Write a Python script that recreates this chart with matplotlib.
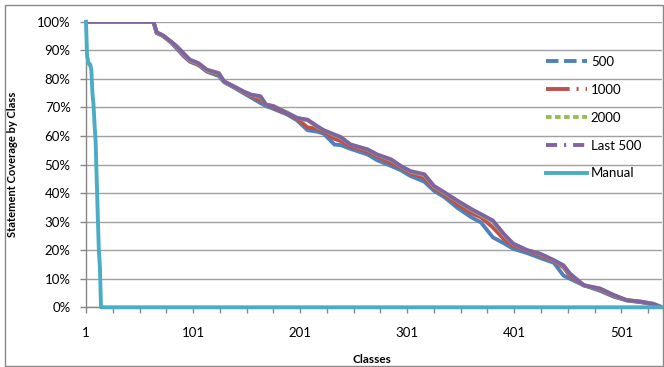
import matplotlib
matplotlib.use("Agg")
import matplotlib.pyplot as plt
from matplotlib.lines import Line2D
from matplotlib.patches import Rectangle

plt.rcParams['font.family'] = ['Lato', 'DejaVu Sans']
plt.rcParams['lines.scale_dashes'] = False

classes = [1, 64, 67, 73, 81, 86, 92, 98, 106, 114, 125, 130, 139, 148, 155,
           164, 169, 176, 189, 198, 208, 217, 223, 233, 239, 248, 264, 273,
           286, 295, 304, 317, 326, 336, 348, 361, 370, 381, 391, 400, 413,
           425, 438, 447, 453, 466, 481, 494, 506, 519, 531, 539]

cov_500 = [100, 100, 96, 95, 92.5, 90.5, 88, 86, 84.8, 82.5, 81, 78.8, 77, 75,
           73.5, 71.5, 70.5, 69.5, 67.5, 65.5, 62, 61.5, 60.8, 57, 56.8, 55.5,
           53.5, 51.5, 49.5, 48, 46, 44, 40.8, 38.5, 34.8, 31.5, 29.7, 24.5,
           22.5, 20.5, 19, 17.3, 15.6, 11.1, 10, 7.7, 5.8, 3.7, 2.4, 1.8, 1.0, 0]

cov_1000 = [100, 100, 96.2, 95, 92.7, 90.8, 88.4, 86.3, 85, 82.8, 81.5, 79,
            77.2, 75.3, 74, 72.5, 71, 70, 67.8, 66, 63, 62.5, 61.5, 59, 58.2,
            56.3, 54.5, 52.8, 50.5, 49, 47, 45.3, 41.7, 39.3, 36, 33, 31.5, 28,
            24, 21.5, 19.8, 18.2, 16.2, 14, 11, 7.7, 6.3, 4, 2.5, 1.9, 1.1, 0]

cov_2000 = [100, 100, 96.2, 95.1, 92.8, 91.1, 88.8, 86.5, 85.3, 83, 81.8, 79,
            77.3, 75.5, 74.4, 73.6, 71, 70.5, 68.2, 66.4, 65.4, 63.2, 62, 60.3,
            59.4, 57, 55.2, 53.4, 51.6, 49.4, 47.5, 46.3, 42.3, 40, 37.1, 34.1,
            32.3, 30, 25.5, 22.2, 20, 18.7, 16.4, 14.5, 11.7, 7.7, 6.5, 4.2,
            2.5, 2.0, 1.2, 0]

cov_last500 = [100, 100, 96.3, 95.2, 92.9, 91.3, 89, 86.7, 85.5, 83.2, 82,
               79.1, 77.4, 75.6, 74.5, 73.9, 71, 70.4, 68, 66.3, 65.7, 63.4, 62,
               60.5, 59.6, 57, 55.3, 53.5, 51.8, 49.5, 47.7, 46.6, 42.5, 40.2,
               37.3, 34.4, 32.6, 30.4, 25.8, 22.3, 20, 18.8, 16.5, 14.7, 11.8,
               7.7, 6.6, 4.3, 2.5, 2.0, 1.2, 0]

manual_classes = [1, 2, 3, 4, 5, 6, 7, 8, 9, 10, 11, 12, 13, 14, 15, 539]
cov_manual = [100, 88, 86, 85, 85, 83, 75, 71, 64, 58, 45, 32, 20, 14, 0, 0]

series = [
    ("500", cov_500, "#4F81BD", (0, (9, 4))),
    ("1000", cov_1000, "#C0504D", (0, (17, 5, 1.5, 5))),
    ("2000", cov_2000, "#9BBB59", (0, (4, 2.5))),
    ("Last 500", cov_last500, "#8064A2", (0, (8, 5, 1.5, 5))),
]
manual_color = "#4BACC6"

W, H = 664, 367
fig = plt.figure(figsize=(W / 100, H / 100), dpi=100)
left, right, top, bottom = 86, 662, 21.7, 307.3
ax = fig.add_axes([left / W, 1 - bottom / H, (right - left) / W, (bottom - top) / H])

lw = 2.8
for name, vals, col, dash in series:
    ax.plot(classes, vals, color=col, lw=lw, solid_joinstyle='round', zorder=3)
ax.plot(manual_classes, cov_manual, color=manual_color, lw=lw, zorder=4,
        clip_on=False)

ax.set_xlim(1, 539)
ax.set_ylim(0, 100)
yt = list(range(0, 101, 10))
ax.set_yticks(yt)
ax.set_yticklabels([f"{v}%" for v in yt])
xt = list(range(1, 540, 25))
ax.set_xticks(xt)
ax.set_xticklabels([str(t) if (t - 1) % 100 == 0 else "" for t in xt])

grid_col = "#A0A0A0"
ax.grid(axis='y', color=grid_col, lw=1.0)
ax.set_axisbelow(True)
for s in ['top', 'right']:
    ax.spines[s].set_visible(False)
for s in ['left', 'bottom']:
    ax.spines[s].set_color("#868686")
    ax.spines[s].set_linewidth(1.0)
ax.tick_params(axis='both', colors="#868686", labelcolor="black",
               labelsize=9.5, length=4, width=1.0)
ax.tick_params(axis='y', pad=7)
ax.tick_params(axis='x', pad=10)

ax.set_ylabel("Statement Coverage by Class", fontsize=8, fontweight='bold')
ax.set_xlabel("Classes", fontsize=8.5, fontweight='bold')
ax.yaxis.set_label_coords((18 - left) / (right - left), 0.5)
ax.xaxis.set_label_coords(0.497, (bottom - 354) / (bottom - top))

handles = [Line2D([], [], color=col, lw=lw, linestyle=dash, dash_capstyle='butt')
           for name, vals, col, dash in series]
handles.append(Line2D([], [], color=manual_color, lw=lw))
labels = [s[0] for s in series] + ["Manual"]
ax.legend(handles, labels, loc='upper left', frameon=False, fontsize=9.5,
          bbox_to_anchor=(546 / W, 1 - 56 / H), bbox_transform=fig.transFigure,
          borderpad=0, borderaxespad=0, handlelength=3.1, handletextpad=0.3,
          labelspacing=1.2)

fig.patches.append(Rectangle((5 / W, 1.5 / H), 658 / W, 361 / H,
                             transform=fig.transFigure, fill=False,
                             edgecolor="#888888", lw=1.0))

fig.savefig("out.png", dpi=100)
